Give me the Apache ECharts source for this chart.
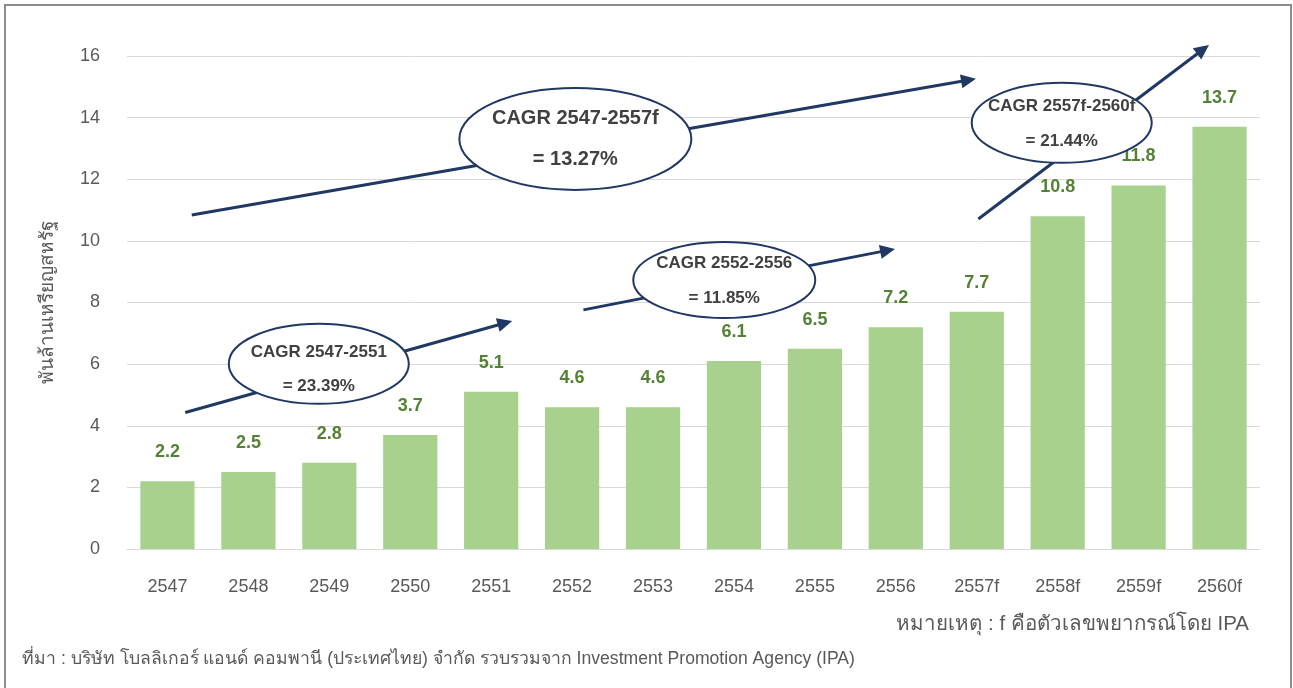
<!DOCTYPE html>
<html>
<head>
<meta charset="utf-8">
<script src="https://cdn.jsdelivr.net/npm/echarts@6/dist/echarts.min.js"></script>
<style>
html,body{margin:0;padding:0;background:#fff;}
#c{width:1293px;height:688px;}
</style>
</head>
<body>
<div id="c"></div>
<script>
// ---- data ----
const categories = ['2547','2548','2549','2550','2551','2552','2553','2554','2555','2556','2557f','2558f','2559f','2560f'];
const values = [2.2, 2.5, 2.8, 3.7, 5.1, 4.6, 4.6, 6.1, 6.5, 7.2, 7.7, 10.8, 11.8, 13.7];
const yTicks = [0, 2, 4, 6, 8, 10, 12, 14, 16];
const yAxisName = 'พันล้านเหรียญสหรัฐ';
const noteText = 'หมายเหตุ : f คือตัวเลขพยากรณ์โดย IPA';
const sourceText = 'ที่มา : บริษัท โบลลิเกอร์ แอนด์ คอมพานี (ประเทศไทย) จำกัด รวบรวมจาก Investment Promotion Agency (IPA)';
// CAGR annotations: arrow from/to in data space (category index, value); ellipse centre in data space
const cagrLabels = ['CAGR 2547-2557f\n= 13.27%', 'CAGR 2547-2551\n= 23.39%', 'CAGR 2552-2556\n= 11.85%', 'CAGR 2557f-2560f\n= 21.44%'];
const arrowFrom = [[0.30, 10.84], [0.22, 4.43], [5.14, 7.76], [10.02, 10.71]];
const arrowTo   = [[9.99, 15.26], [4.26, 7.40], [8.99, 9.74], [12.87, 16.36]];
const ellipseAt = [[5.04, 13.31], [1.87, 6.01], [6.88, 8.73], [11.05, 13.83]];
// ---- presentation (sizes in px) ----
const ellipseR = [[116, 51], [90, 40], [91, 38], [90, 40]];
const ellipseFont = [20, 17, 17, 17];
const ellipseLH = [41, 34, 35, 35];
const ellipseDy = [0, 5, 1, 1];

const FONT = 'Arial, "Liberation Sans", "Noto Sans", sans-serif';
const chart = echarts.init(document.getElementById('c'), null, {renderer: 'canvas'});
chart.setOption({
  animation: false,
  backgroundColor: '#fff',
  grid: {left: 127, right: 33, top: 56, bottom: 139, containLabel: false},
  xAxis: {
    type: 'category',
    data: categories,
    axisLine: {show: true, lineStyle: {color: '#D9D9D9', width: 1}},
    axisTick: {show: false},
    axisLabel: {color: '#595959', fontSize: 18, fontFamily: FONT, margin: 29}
  },
  yAxis: {
    type: 'value',
    min: yTicks[0], max: yTicks[yTicks.length - 1], interval: 2,
    name: yAxisName,
    nameLocation: 'middle',
    nameGap: 70,
    nameRotate: 90,
    nameTextStyle: {color: '#595959', fontSize: 19, fontFamily: FONT},
    axisLine: {show: false},
    axisTick: {show: false},
    axisLabel: {color: '#595959', fontSize: 18, fontFamily: FONT, margin: 27},
    splitLine: {lineStyle: {color: '#D9D9D9', width: 1}}
  },
  series: [{
    type: 'bar',
    data: values,
    barWidth: '67%',
    itemStyle: {color: '#A9D18E'},
    label: {
      show: true, position: 'top', distance: 20,
      color: '#548235', fontSize: 18, fontWeight: 'bold', fontFamily: FONT
    }
  }]
});

function toPx(p) {
  const a = chart.convertToPixel({gridIndex: 0}, [0, 0]);
  const b = chart.convertToPixel({gridIndex: 0}, [categories.length - 1, yTicks[yTicks.length - 1]]);
  const sx = (b[0] - a[0]) / (categories.length - 1);
  const sy = (b[1] - a[1]) / yTicks[yTicks.length - 1];
  return [a[0] + p[0] * sx, a[1] + p[1] * sy];
}

const NAVY = '#203864';
const g = [];
// outer frame
g.push({type: 'rect', shape: {x: 5, y: 5, width: 1286, height: 700}, style: {fill: 'none', stroke: '#8C8C8C', lineWidth: 2}, z: 1});
// arrows
for (let i = 0; i < arrowFrom.length; i++) {
  const s = toPx(arrowFrom[i]), e = toPx(arrowTo[i]);
  const ang = Math.atan2(e[1] - s[1], e[0] - s[0]);
  const L = 15, W = 7;
  const bx = e[0] - L * Math.cos(ang), by = e[1] - L * Math.sin(ang);
  g.push({type: 'line', shape: {x1: s[0], y1: s[1], x2: bx + 2 * Math.cos(ang), y2: by + 2 * Math.sin(ang)},
          style: {stroke: NAVY, lineWidth: 3}, z: 10});
  g.push({type: 'polygon', shape: {points: [
      [e[0], e[1]],
      [bx + W * Math.sin(ang), by - W * Math.cos(ang)],
      [bx - W * Math.sin(ang), by + W * Math.cos(ang)]
    ]}, style: {fill: NAVY}, z: 10});
}
// ellipses + texts
for (let i = 0; i < ellipseAt.length; i++) {
  const c = toPx(ellipseAt[i]);
  g.push({type: 'ellipse', shape: {cx: c[0], cy: c[1], rx: ellipseR[i][0], ry: ellipseR[i][1]},
          style: {fill: '#fff', stroke: NAVY, lineWidth: 2}, z: 20});
  g.push({type: 'text', x: c[0], y: c[1] + ellipseDy[i], z: 21,
          style: {text: cagrLabels[i], fill: '#404040', font: 'bold ' + ellipseFont[i] + 'px ' + FONT,
                  align: 'center', verticalAlign: 'middle', lineHeight: ellipseLH[i]}});
}
// notes
g.push({type: 'text', x: 1249, y: 624, style: {text: noteText, fill: '#595959', font: '20.5px ' + FONT, align: 'right', verticalAlign: 'middle'}, z: 5});
g.push({type: 'text', x: 22, y: 659, style: {text: sourceText, fill: '#595959', font: '17.6px ' + FONT, align: 'left', verticalAlign: 'middle'}, z: 5});
chart.setOption({graphic: g});
</script>
</body>
</html>
